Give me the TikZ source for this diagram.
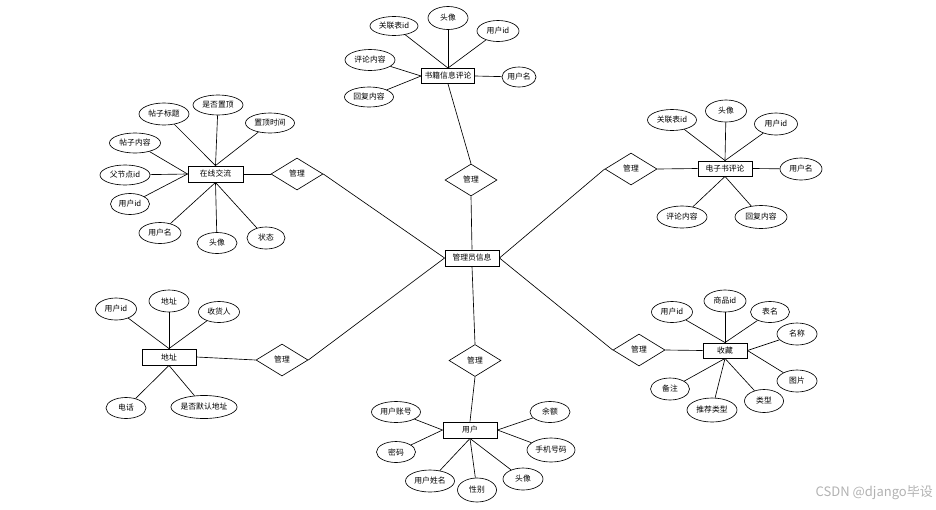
\documentclass[tikz,border=0pt]{standalone}
\usepackage{fontspec}
\setmainfont{Noto Sans CJK SC}
\usetikzlibrary{shapes.geometric}
\begin{document}
\begin{tikzpicture}[x=1pt,y=-1pt,
  lbl/.style={font=\fontsize{7.8}{9}\selectfont},
  ent/.style={lbl, draw, line width=0.9pt, minimum width=54pt, minimum height=16pt, inner sep=0pt, fill=white},
  attr/.style={lbl, draw, ellipse, line width=0.65pt, minimum width=40pt, minimum height=22pt, inner sep=0pt},
  rel/.style={lbl, draw, diamond, line width=0.65pt, minimum width=52pt, minimum height=32pt, inner sep=0pt},
  conn/.style={line width=0.65pt}
]
\useasboundingbox (0,0) rectangle (936,509);

% center
\node[ent] (adm) at (472,258) {管理员信息};

% relations
\node[rel] (r1) at (297,174) {管理};
\node[rel] (r2) at (471,180) {管理};
\node[rel] (r3) at (631,169) {管理};
\node[rel] (r4) at (282,360) {管理};
\node[rel] (r5) at (475,360.5) {管理};
\node[rel] (r6) at (639,350) {管理};

% top cluster
\node[ent, minimum width=53pt, minimum height=15pt] (e1) at (448,76) {书籍信息评论};
\node[attr, minimum width=48pt, minimum height=19pt] (a11) at (394,26) {关联表id};
\node[attr, minimum width=40pt, minimum height=23pt] (a12) at (448,18) {头像};
\node[attr, minimum width=42pt, minimum height=21pt] (a13) at (498,31) {用户id};
\node[attr, minimum width=50pt, minimum height=21pt] (a14) at (370,60) {评论内容};
\node[attr, minimum width=49pt, minimum height=20pt] (a15) at (369,97) {回复内容};
\node[attr, minimum width=34pt, minimum height=20pt] (a16) at (519,77) {用户名};
\draw[conn] (e1.north) -- (a11);
\draw[conn] (e1.north) -- (a12);
\draw[conn] (e1.north) -- (a13);
\draw[conn] (e1.west) -- (a14);
\draw[conn] (e1.west) -- (a15);
\draw[conn] (e1.east) -- (a16);
\draw[conn] (e1.south) -- (r2.north);
\draw[conn] (r2.south) -- (adm.north);

% upper-left cluster
\node[ent, minimum width=55pt] (e2) at (215.5,174) {在线交流};
\node[attr, minimum width=50pt, minimum height=22pt] (a21) at (164,114) {帖子标题};
\node[attr, minimum width=50pt, minimum height=20pt] (a22) at (218,105) {是否置顶};
\node[attr, minimum width=49pt, minimum height=20pt] (a23) at (270,123) {置顶时间};
\node[attr, minimum width=51pt, minimum height=20pt] (a24) at (135,143) {帖子内容};
\node[attr, minimum width=50pt, minimum height=20pt] (a25) at (125,175) {父节点id};
\node[attr, minimum width=39pt, minimum height=21pt] (a26) at (130,204) {用户id};
\node[attr, minimum width=42pt, minimum height=21pt] (a27) at (160,233) {用户名};
\node[attr, minimum width=40pt, minimum height=21pt] (a28) at (217,243) {头像};
\node[attr, minimum width=38pt, minimum height=22pt] (a29) at (266,238) {状态};
\draw[conn] (e2.north) -- (a21);
\draw[conn] (e2.north) -- (a22);
\draw[conn] (e2.north) -- (a23);
\draw[conn] (e2.west) -- (a24);
\draw[conn] (e2.west) -- (a25);
\draw[conn] (e2.west) -- (a26);
\draw[conn] (e2.south) -- (a27);
\draw[conn] (e2.south) -- (a28);
\draw[conn] (e2.south) -- (a29);
\draw[conn] (e2.east) -- (r1.west);
\draw[conn] (r1.east) -- (adm.west);

% upper-right cluster
\node[ent, minimum width=54pt, minimum height=15pt] (e3) at (725,168.5) {电子书评论};
\node[attr, minimum width=49pt, minimum height=21pt] (a31) at (672,120) {关联表id};
\node[attr, minimum width=41pt, minimum height=22pt] (a32) at (726,111) {头像};
\node[attr, minimum width=43pt, minimum height=22pt] (a33) at (776,124) {用户id};
\node[attr, minimum width=42pt, minimum height=22pt] (a34) at (801,169) {用户名};
\node[attr, minimum width=50pt, minimum height=22pt] (a35) at (682,217) {评论内容};
\node[attr, minimum width=52pt, minimum height=23pt] (a36) at (761,217) {回复内容};
\draw[conn] (e3.north) -- (a31);
\draw[conn] (e3.north) -- (a32);
\draw[conn] (e3.north) -- (a33);
\draw[conn] (e3.east) -- (a34);
\draw[conn] (e3.south) -- (a35);
\draw[conn] (e3.south) -- (a36);
\draw[conn] (r3.east) -- (e3.west);
\draw[conn] (adm.east) -- (r3.west);

% lower-left cluster
\node[ent] (e4) at (169,357) {地址};
\node[attr, minimum width=41pt, minimum height=22pt] (a41) at (116,309) {用户id};
\node[attr, minimum width=40pt, minimum height=22pt] (a42) at (169,301) {地址};
\node[attr, minimum width=41pt, minimum height=21pt] (a43) at (219,312) {收货人};
\node[attr, minimum width=40pt, minimum height=21pt] (a44) at (126,408) {电话};
\node[attr, minimum width=65pt, minimum height=23pt] (a45) at (204,407) {是否默认地址};
\draw[conn] (e4.north) -- (a41);
\draw[conn] (e4.north) -- (a42);
\draw[conn] (e4.north) -- (a43);
\draw[conn] (e4.south) -- (a44);
\draw[conn] (e4.south) -- (a45);
\draw[conn] (e4.east) -- (r4.west);
\draw[conn] (r4.east) -- (adm.west);

% bottom cluster
\node[ent] (e5) at (470,430) {用户};
\node[attr, minimum width=49pt, minimum height=21pt] (a51) at (396,412) {用户账号};
\node[attr, minimum width=39pt, minimum height=21pt] (a52) at (396,452) {密码};
\node[attr, minimum width=49pt, minimum height=22pt] (a53) at (430,481) {用户姓名};
\node[attr, minimum width=39pt, minimum height=24pt] (a54) at (477,490) {性别};
\node[attr, minimum width=40pt, minimum height=22pt] (a55) at (523,479) {头像};
\node[attr, minimum width=40pt, minimum height=21pt] (a56) at (550,412) {余额};
\node[attr, minimum width=48pt, minimum height=24pt] (a57) at (551,450) {手机号码};
\draw[conn] (e5.west) -- (a51);
\draw[conn] (e5.west) -- (a52);
\draw[conn] (e5.south) -- (a53);
\draw[conn] (e5.south) -- (a54);
\draw[conn] (e5.south) -- (a55);
\draw[conn] (e5.east) -- (a56);
\draw[conn] (e5.east) -- (a57);
\draw[conn] (adm.south) -- (r5.north);
\draw[conn] (r5.south) -- (e5.north);

% lower-right cluster
\node[ent, minimum width=44pt, minimum height=15pt] (e6) at (725,350.5) {收藏};
\node[attr, minimum width=41pt, minimum height=21pt] (a61) at (672,312) {用户id};
\node[attr, minimum width=42pt, minimum height=22pt] (a62) at (725,301) {商品id};
\node[attr, minimum width=39pt, minimum height=21pt] (a63) at (770,312) {表名};
\node[attr, minimum width=40pt, minimum height=22pt] (a64) at (797,334) {名称};
\node[attr, minimum width=40pt, minimum height=22pt] (a65) at (797,381) {图片};
\node[attr, minimum width=39pt, minimum height=23pt] (a66) at (764,401) {类型};
\node[attr, minimum width=50pt, minimum height=24pt] (a67) at (712,410) {推荐类型};
\node[attr, minimum width=39pt, minimum height=22pt] (a68) at (670,389) {备注};
\draw[conn] (e6.north) -- (a61);
\draw[conn] (e6.north) -- (a62);
\draw[conn] (e6.north) -- (a63);
\draw[conn] (e6.east) -- (a64);
\draw[conn] (e6.east) -- (a65);
\draw[conn] (e6.south) -- (a66);
\draw[conn] (e6.south) -- (a67);
\draw[conn] (e6.south) -- (a68);
\draw[conn] (r6.east) -- (e6.west);
\draw[conn] (adm.east) -- (r6.west);

% watermark
\node[text=black!30, font=\fontsize{13}{15}\selectfont, anchor=east, inner sep=0pt] (wm) at (933,493) {CSDN @django毕设};
\end{tikzpicture}
\end{document}
